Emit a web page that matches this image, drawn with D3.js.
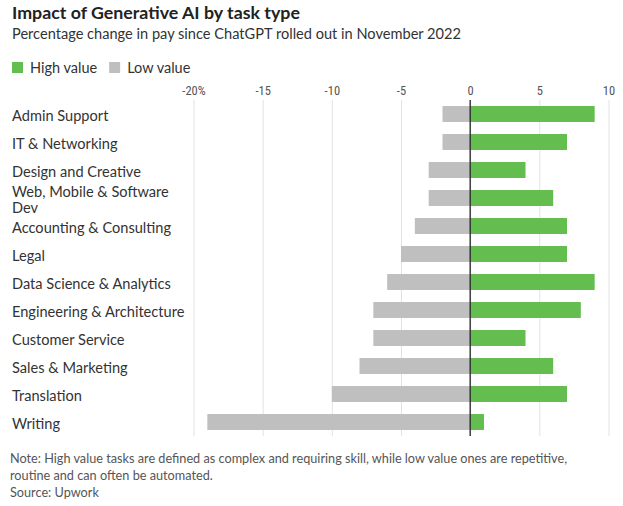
<!DOCTYPE html>
<html>
<head>
<meta charset="utf-8">
<script src="https://cdn.jsdelivr.net/npm/d3@7"></script>
<style>
  body { margin: 0; background: #fff; }
  svg { display: block; }
</style>
</head>
<body>
<div id="vis"></div>
<script>
// data
const CATEGORIES = ["Admin Support", "IT & Networking", "Design and Creative",
  "Web, Mobile & Software Dev", "Accounting & Consulting", "Legal",
  "Data Science & Analytics", "Engineering & Architecture", "Customer Service",
  "Sales & Marketing", "Translation", "Writing"];
const HIGH_VALUE = [9, 7, 4, 6, 7, 7, 9, 8, 4, 6, 7, 1];
const LOW_VALUE = [-2, -2, -3, -3, -4, -5, -6, -7, -7, -8, -10, -19];
const TICKS = [-20, -15, -10, -5, 0, 5, 10];
const SERIES = ["High value", "Low value"];

// frame
const FRAME_WIDTH = 623;
const FRAME_HEIGHT = 506;
const COLORS = {high: "#64bd4f", low: "#bfbfbf"};
const FONT = "Lato, 'Noto Sans', sans-serif";
const NARROW = "'Liberation Sans Narrow', 'Roboto Condensed', 'Liberation Sans', sans-serif";

const svg = d3.select("#vis")
  .append("svg")
    .attr("width", FRAME_WIDTH)
    .attr("height", FRAME_HEIGHT);

// title + subtitle
svg.append("text")
  .attr("x", 12).attr("y", 19)
  .attr("font-family", FONT).attr("font-weight", 700)
  .attr("font-size", "17.8px").attr("fill", "#222")
  .text("Impact of Generative AI by task type");

svg.append("text")
  .attr("x", 12).attr("y", 39)
  .attr("font-family", FONT).attr("font-size", "14.6px").attr("fill", "#333")
  .text("Percentage change in pay since ChatGPT rolled out in November 2022");

// legend
const legend = svg.append("g").attr("transform", "translate(12,62)");
const legendColors = [COLORS.high, COLORS.low];
let lx = 0;
SERIES.forEach((s, i) => {
  const g = legend.append("g").attr("transform", "translate(" + lx + ",0)");
  g.append("rect").attr("width", 11).attr("height", 11).attr("fill", legendColors[i]);
  const t = g.append("text")
    .attr("x", 18).attr("y", 10.5)
    .attr("font-family", FONT).attr("font-size", "14.5px").attr("fill", "#333")
    .text(s);
  lx += 18 + t.node().getComputedTextLength() + 12;
});

// scales
const X_SCALE = d3.scaleLinear().domain([-20, 10]).range([193.5, 608.5]);
const Y_SCALE = d3.scaleBand()
  .domain(CATEGORIES)
  .range([100, 436])
  .paddingInner(0.43)
  .paddingOuter(0.215);

// x axis on top, gridlines down
const axis = svg.append("g")
  .attr("transform", "translate(0,100)")
  .call(d3.axisTop(X_SCALE)
    .tickValues(TICKS)
    .tickSize(-336)
    .tickPadding(5)
    .tickFormat((d) => d === -20 ? d + "%" : d));
axis.select(".domain").remove();
axis.selectAll(".tick line").attr("stroke", "#e2e2e2");
axis.selectAll(".tick text")
  .attr("font-family", NARROW).attr("font-size", "12.5px").attr("fill", "#555");

// bars
const rows = svg.append("g");
rows.selectAll(".low")
  .data(CATEGORIES)
  .enter()
  .append("rect")
    .attr("x", (d, i) => X_SCALE(LOW_VALUE[i]))
    .attr("y", (d) => Y_SCALE(d))
    .attr("width", (d, i) => X_SCALE(0) - X_SCALE(LOW_VALUE[i]))
    .attr("height", Y_SCALE.bandwidth())
    .attr("fill", COLORS.low);

rows.selectAll(".high")
  .data(CATEGORIES)
  .enter()
  .append("rect")
    .attr("x", X_SCALE(0))
    .attr("y", (d) => Y_SCALE(d))
    .attr("width", (d, i) => X_SCALE(HIGH_VALUE[i]) - X_SCALE(0))
    .attr("height", Y_SCALE.bandwidth())
    .attr("fill", COLORS.high);

// zero line
svg.append("line")
  .attr("x1", X_SCALE(0)).attr("x2", X_SCALE(0))
  .attr("y1", 100).attr("y2", 436)
  .attr("stroke", "#222").attr("stroke-width", 1.3);

// category labels, wrapped
const LABEL_WIDTH = 185;
const labels = svg.append("g");
CATEGORIES.forEach((c) => {
  const cy = Y_SCALE(c) + Y_SCALE.bandwidth() / 2;
  const t = labels.append("text")
    .attr("font-family", FONT).attr("font-size", "14.6px").attr("fill", "#333");
  const words = c.split(" ");
  let lines = [];
  let line = [];
  words.forEach((w) => {
    line.push(w);
    t.text(line.join(" "));
    if (t.node().getComputedTextLength() > LABEL_WIDTH && line.length > 1) {
      line.pop();
      lines.push(line.join(" "));
      line = [w];
    }
  });
  lines.push(line.join(" "));
  t.text(null);
  const lh = 15.5;
  lines.forEach((l, j) => {
    t.append("tspan")
      .attr("x", 12)
      .attr("y", cy + 7 + (j - (lines.length - 1) / 2) * lh)
      .text(l);
  });
});

// footnote
const notes = ["Note: High value tasks are defined as complex and requiring skill, while low value ones are repetitive,",
  "routine and can often be automated.",
  "Source: Upwork"];
svg.selectAll(".note")
  .data(notes)
  .enter()
  .append("text")
    .attr("x", 10)
    .attr("y", (d, i) => 463 + i * 17)
    .attr("font-family", FONT).attr("font-size", "12.7px").attr("fill", "#555")
    .text((d) => d);
</script>
</body>
</html>
